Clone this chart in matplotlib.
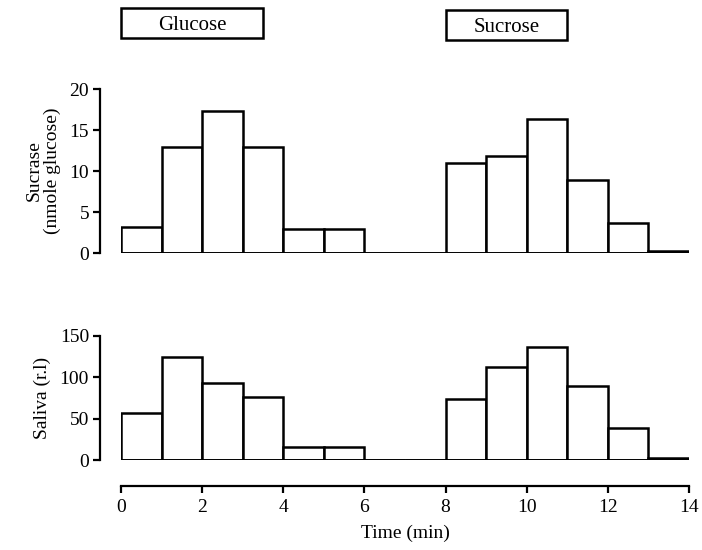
import numpy as np
import matplotlib
matplotlib.use("Agg")
import matplotlib.pyplot as plt
from matplotlib.patches import Rectangle
from matplotlib.transforms import blended_transform_factory

plt.rcParams['font.family'] = ['Liberation Serif', 'DejaVu Serif']

# one bar per minute, 0-14 min
bin_left = np.arange(14)
sucrase = [3.2, 12.9, 17.3, 12.9, 2.9, 2.9, 0, 0, 11.0, 11.8, 16.3, 8.9, 3.7, 0.2]
saliva = [57, 124, 93, 76, 16, 16, 0, 0, 74, 112, 137, 90, 39, 2]

x_ticks = [0, 2, 4, 6, 8, 10, 12, 14]
sucrase_ticks = [0, 5, 10, 15, 20]
saliva_ticks = [0, 50, 100, 150]

# stimulus boxes: (label, start, end) in minutes
stimuli = [("Glucose", 0, 3.5), ("Sucrose", 8, 11)]

fig = plt.figure(figsize=(7.02, 5.5), dpi=100)
ax1 = fig.add_axes([0.1724, 0.54, 0.809, 0.298])
ax2 = fig.add_axes([0.1724, 0.1636, 0.809, 0.2255])

for ax, vals, ticks, label in [(ax1, sucrase, sucrase_ticks, "Sucrase\n(nmole glucose)"),
                               (ax2, saliva, saliva_ticks, "Saliva (r.l)")]:
    ax.bar(bin_left, vals, width=1, align='edge', facecolor='white',
           edgecolor='black', linewidth=1.8, zorder=3)
    ax.axhline(0, color='black', linewidth=2, zorder=4)
    ax.set_xlim(0, 14)
    ax.set_ylim(0, ticks[-1])
    ax.set_yticks(ticks)
    ax.spines['top'].set_visible(False)
    ax.spines['right'].set_visible(False)
    ax.spines['left'].set_position(('outward', 15))
    ax.spines['left'].set_linewidth(1.6)
    ax.tick_params(axis='y', direction='out', length=5, width=1.6, labelsize=14, pad=3)
    ax.set_ylabel(label, fontsize=14, linespacing=1.1, labelpad=6)

ax1.spines['bottom'].set_visible(False)
ax1.set_xticks([])

ax2.spines['bottom'].set_position(('outward', 19))
ax2.spines['bottom'].set_linewidth(1.6)
ax2.set_xticks(x_ticks)
ax2.tick_params(axis='x', direction='out', length=5, width=1.6, labelsize=14, pad=4)
ax2.set_xlabel("Time (min)", fontsize=14, labelpad=6)

# stimulus boxes above the top panel
trans = blended_transform_factory(ax1.transData, fig.transFigure)
for (name, start, end), (y0, y1) in zip(stimuli, [(1 - 38 / 550, 1 - 8 / 550), (1 - 40 / 550, 1 - 10 / 550)]):
    ax1.add_patch(Rectangle((start, y0), end - start, y1 - y0, transform=trans,
                            facecolor='white', edgecolor='black', linewidth=1.8, clip_on=False))
    ax1.text((start + end) / 2, (y0 + y1) / 2, name, transform=trans,
             ha='center', va='center_baseline', fontsize=15)

fig.savefig("out.png", dpi=100)
